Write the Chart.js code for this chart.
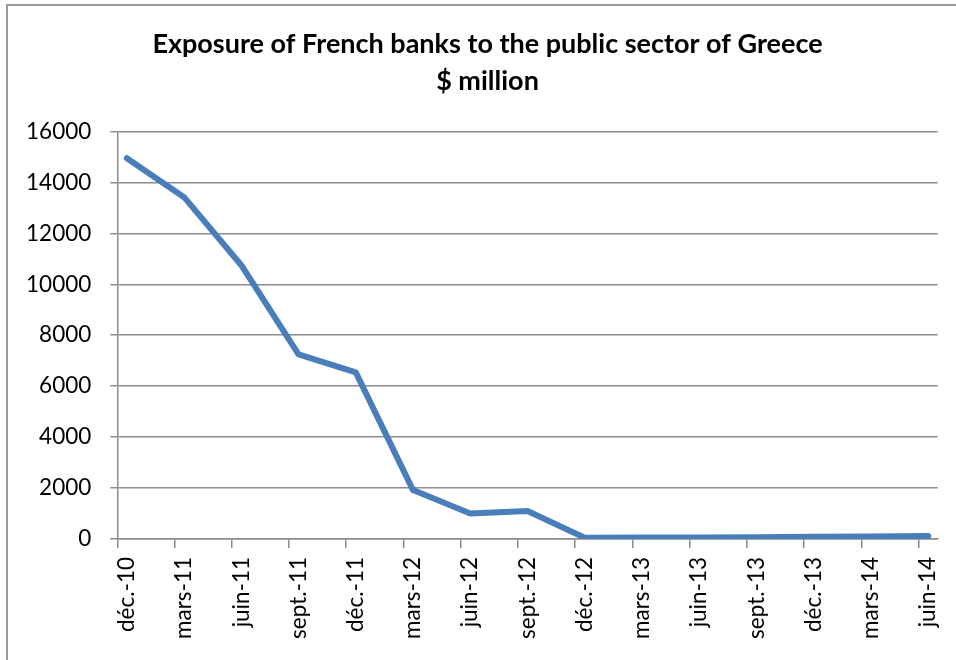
<!DOCTYPE html>
<html>
<head>
<meta charset="utf-8">
<script src="https://cdn.jsdelivr.net/npm/chart.js@4.4.1/dist/chart.umd.min.js"></script>
<style>
  html, body { margin: 0; padding: 0; background: #fff; overflow: hidden; }
  body { width: 956px; height: 660px; position: relative; }
  .frame {
    position: absolute; left: 6px; top: 4px; width: 1000px; height: 700px;
    border-left: 2px solid #9a9a9a; border-top: 2px solid #9a9a9a;
  }
  #myChart { position: absolute; left: 8px; top: 6px; }
</style>
</head>
<body>
<div class="frame"></div>
<canvas id="myChart" width="947" height="654"></canvas>
<script>
// quarterly observations, $ million
const quarters = ['déc.-10', 'mars-11', 'juin-11', 'sept.-11', 'déc.-11', 'mars-12', 'juin-12', 'sept.-12',
                  'déc.-12', 'mars-13', 'juin-13', 'sept.-13', 'déc.-13', 'mars-14', 'juin-14'];
const exposure = [14950, 13420, 10750, 7250, 6540, 1920, 1000, 1100,
                  50, 60, 60, 70, 90, 100, 120];
const yTicks = [0, 2000, 4000, 6000, 8000, 10000, 12000, 14000, 16000];

// date axis in months: one point every 3 months, each sitting mid-month
const step = 3;
const points = exposure.map((v, i) => ({ x: i * step, y: v }));

const gray = '#8c8c8c';
const font = 'Lato';

const ctx = document.getElementById('myChart').getContext('2d');
new Chart(ctx, {
  type: 'line',
  data: {
    datasets: [{
      data: points,
      borderColor: '#4a7ebb',
      borderWidth: 6,
      borderCapStyle: 'round',
      borderJoinStyle: 'round',
      pointRadius: 0,
      tension: 0
    }]
  },
  options: {
    responsive: false,
    devicePixelRatio: 1,
    animation: false,
    layout: { padding: { left: 12, right: 0, top: 0, bottom: 0 } },
    plugins: {
      legend: { display: false },
      tooltip: { enabled: false },
      title: {
        display: true,
        text: ['Exposure of French banks to the public sector of Greece', '$ million'],
        color: '#000',
        font: { family: font, size: 27, weight: 'bold', lineHeight: 1.37 },
        padding: { top: 19.5, bottom: 32 }
      }
    },
    scales: {
      x: {
        type: 'linear',
        min: -0.5,
        max: (quarters.length - 1) * step + 0.5,
        afterBuildTicks: scale => {
          scale.ticks = quarters.map((q, i) => ({ value: i * step - 0.5 }));
        },
        afterFit: scale => { scale.height = 121; },
        grid: { drawOnChartArea: false, drawTicks: true, tickLength: 9, color: gray, lineWidth: 1.5 },
        border: { color: gray, width: 1.5 },
        ticks: {
          autoSkip: false,
          minRotation: 90,
          maxRotation: 90,
          padding: 9,
          labelOffset: 9.5,
          color: '#000',
          font: { family: font, size: 22.5 },
          callback: (v, i) => quarters[i]
        }
      },
      y: {
        min: 0,
        max: 16000,
        afterBuildTicks: scale => {
          scale.ticks = yTicks.map(v => ({ value: v }));
        },
        afterFit: scale => { scale.width = 97.3; },
        grid: { color: gray, lineWidth: 1.5, tickLength: 7 },
        border: { color: gray, width: 1.5 },
        ticks: {
          padding: 19,
          color: '#000',
          font: { family: font, size: 22.5 },
          callback: v => String(v)
        }
      },
      // empty strip on the right so the title sits centred on the frame
      gutter: {
        position: 'right',
        afterFit: scale => { scale.width = 17; },
        grid: { display: false },
        border: { display: false },
        ticks: { display: false }
      }
    }
  }
});
</script>
</body>
</html>
